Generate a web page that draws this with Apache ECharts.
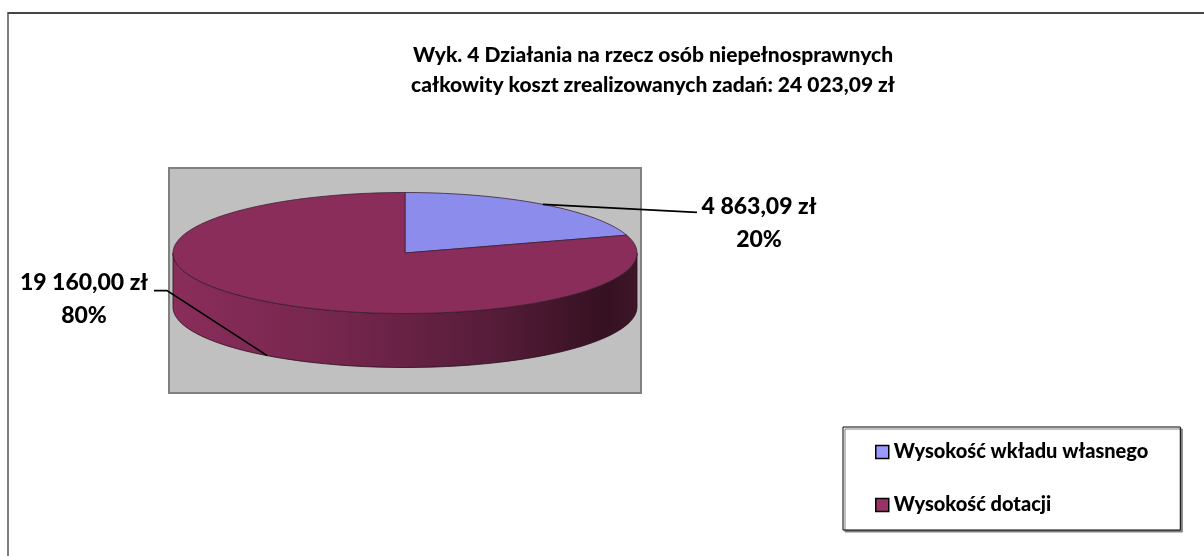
<!DOCTYPE html>
<html>
<head>
<meta charset="utf-8">
<title>Wyk. 4</title>
<script src="https://cdn.jsdelivr.net/npm/echarts@6/dist/echarts.min.js"></script>
<style>
  html, body { margin: 0; padding: 0; background: #fff; }
  #chart-container { width: 1204px; height: 556px; }
</style>
</head>
<body>
<div id="chart-container"></div>
<script>
// dane wykresu
const categories = ['Wysokość wkładu własnego', 'Wysokość dotacji'];
const values = [4863.09, 19160.00];
const legendColors = ['#9999ff', '#993366'];
const topColors = ['#8c8cec', '#8b2d5a'];

// kwota w formacie "19 160,00 zł"
const fmtPln = (v) => {
    let parts = v.toFixed(2).split('.');
    return parts[0].replace(/\B(?=(\d{3})+(?!\d))/g, ' ') + ',' + parts[1] + ' zł';
};

const total = values.reduce((a, b) => a + b, 0);

// geometria "3D" tortu (elipsa + boczna ścianka)
const pie = { cx: 405, cy: 253, rx: 232, ry: 60.5, depth: 54 };

const rimPoint = (deg, dy) => {
    let r = deg * Math.PI / 180;
    return [pie.cx + pie.rx * Math.sin(r), pie.cy - pie.ry * Math.cos(r) + (dy || 0)];
};

const arcPoints = (a0, a1, dy) => {
    let pts = [];
    let n = Math.max(2, Math.ceil(Math.abs(a1 - a0) / 2));
    for (let k = 0; k <= n; k++) pts.push(rimPoint(a0 + (a1 - a0) * k / n, dy));
    return pts;
};

const sideFill = () => new echarts.graphic.LinearGradient(0, 0, 1, 0, [
    { offset: 0, color: '#8a2d5b' },
    { offset: 0.35, color: '#75264d' },
    { offset: 0.7, color: '#551c38' },
    { offset: 0.93, color: '#351121' },
    { offset: 1, color: '#3f1628' }
]);

const renderSlice = (i) => (params, api) => {
    let before = values.slice(0, i).reduce((a, b) => a + b, 0);
    let start = before / total * 360;
    let end = start + api.value(0) / total * 360;
    let children = [];

    // boczna ścianka (tylko przednia połowa jest widoczna)
    let s = Math.max(start, 90), e = Math.min(end, 270);
    if (e > s) {
        children.push({
            type: 'polygon',
            shape: { points: arcPoints(s, e, 0).concat(arcPoints(e, s, pie.depth)) },
            style: { fill: sideFill(), stroke: '#2a0d1a', lineWidth: 0.8 }
        });
    }
    // wierzch wycinka
    children.push({
        type: 'polygon',
        shape: { points: [[pie.cx, pie.cy]].concat(arcPoints(start, end, 0)) },
        style: { fill: topColors[i], stroke: '#3b2233', lineWidth: 0.8 }
    });

    // etykieta z linią
    let mid = (start + end) / 2;
    let front = mid > 90 && mid < 270;
    let anchor = rimPoint(mid, front ? pie.depth : 0);
    let right = Math.sin(mid * Math.PI / 180) > 0;
    let linePts, tx, ty;
    if (right) {
        let endPt = [pie.cx + pie.rx + 60, anchor[1] + 8];
        linePts = [anchor, endPt];
        tx = endPt[0] + 62;
        ty = endPt[1] - 6;
    } else {
        let elbow = [pie.cx - pie.rx - 6, anchor[1] - 65];
        let endPt = [elbow[0] - 13, elbow[1]];
        linePts = [anchor, elbow, endPt];
        tx = endPt[0] - 70;
        ty = elbow[1] - 8;
    }
    children.push({
        type: 'polyline',
        shape: { points: linePts },
        style: { stroke: '#000', lineWidth: 1.6, fill: null }
    });
    children.push({
        type: 'text',
        style: {
            x: tx, y: ty - 16.5,
            text: fmtPln(api.value(0)) + '\n' + Math.round(api.value(0) / total * 100) + '%',
            align: 'center', verticalAlign: 'top',
            font: '900 23px Lato', lineHeight: 33, fill: '#000'
        }
    });
    return { type: 'group', children: children };
};

var myChart = echarts.init(document.getElementById('chart-container'));

var option = {
    animation: false,
    title: {
        text: 'Wyk. 4 Działania na rzecz osób niepełnosprawnych\ncałkowity koszt zrealizowanych zadań: ' + fmtPln(total),
        left: 648,
        top: 35,
        textAlign: 'center',
        textStyle: { fontFamily: 'Lato', fontWeight: 900, fontSize: 21, lineHeight: 30, color: '#000' }
    },
    legend: {
        orient: 'vertical',
        left: 843,
        top: 427,
        padding: [15, 32, 15, 32],
        itemGap: 33,
        itemWidth: 13,
        itemHeight: 13,
        icon: 'rect',
        selectedMode: false,
        backgroundColor: '#fff',
        borderColor: '#000',
        borderWidth: 1,
        shadowColor: '#808080',
        shadowOffsetX: 2,
        shadowOffsetY: 2,
        itemStyle: { borderColor: '#000', borderWidth: 1.5 },
        textStyle: { fontFamily: 'Lato', fontWeight: 900, fontSize: 20, color: '#000' },
        data: categories
    },
    graphic: [
        // ramka wykresu
        { type: 'rect', z: -10, shape: { x: 8, y: 13, width: 1300, height: 700 },
          style: { fill: '#fff', stroke: '#7f7f7f', lineWidth: 2 } },
        { type: 'line', z: -9, shape: { x1: 8, y1: 13, x2: 1204, y2: 13 },
          style: { stroke: '#333', lineWidth: 1.5 } },
        // obszar kreślenia
        { type: 'rect', z: -5, shape: { x: 169, y: 168, width: 472, height: 225 },
          style: { fill: '#c0c0c0', stroke: '#808080', lineWidth: 2 } }
    ],
    series: categories.map((name, i) => ({
        type: 'custom',
        name: name,
        coordinateSystem: 'none',
        color: legendColors[i],
        data: [[values[i]]],
        renderItem: renderSlice(i)
    }))
};

myChart.setOption(option);
</script>
</body>
</html>
